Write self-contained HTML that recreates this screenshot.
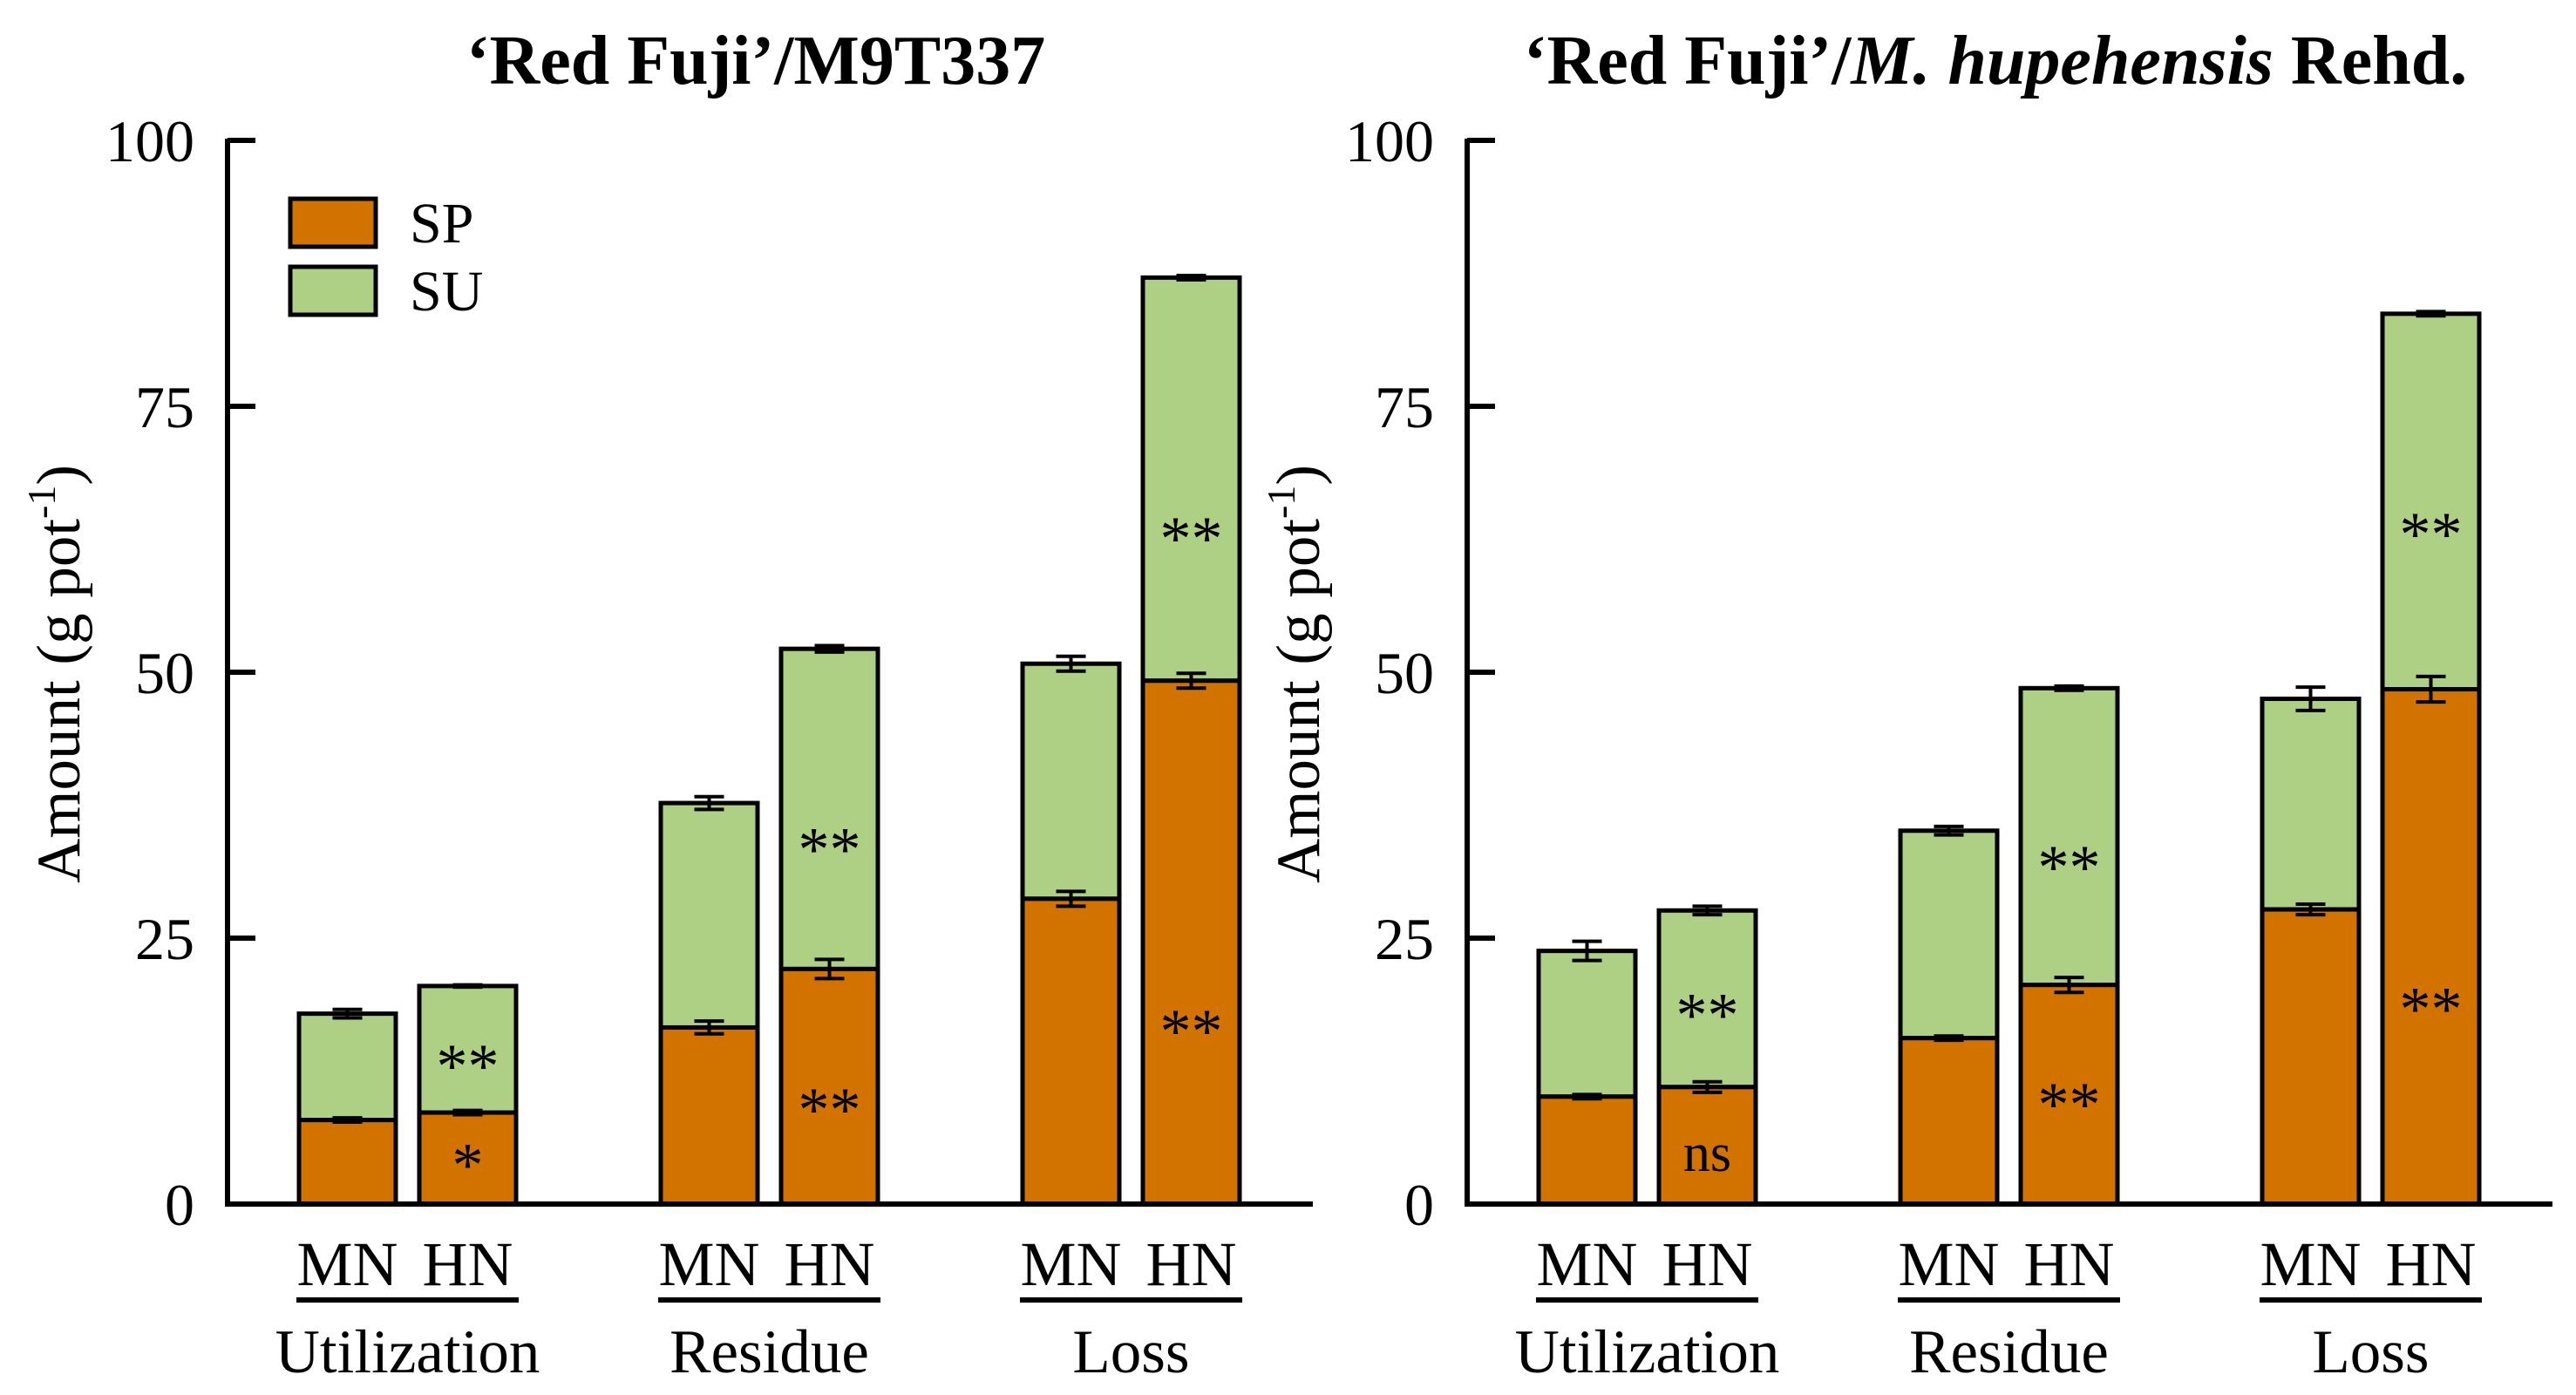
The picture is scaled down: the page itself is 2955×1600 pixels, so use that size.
<!DOCTYPE html>
<html><head><meta charset="utf-8"><style>
html,body{margin:0;padding:0;background:#fff;}
svg{display:block;font-family:"Liberation Serif",serif;}
</style></head><body>
<svg id="chart" width="2955" height="1600" viewBox="0 0 2955 1600" xmlns="http://www.w3.org/2000/svg"></svg>
<script>
const categories = ["Utilization","Residue","Loss"];
const treatments = ["MN","HN"];
// Left panel: 'Red Fuji'/M9T337  (order: Util MN, Util HN, Res MN, Res HN, Loss MN, Loss HN)
const leftSP = [7.9, 8.6, 16.6, 22.1, 28.7, 49.2];
const leftSPerr = [0.2, 0.2, 0.6, 0.9, 0.7, 0.7];
const leftTotal = [17.9, 20.5, 37.7, 52.2, 50.8, 87.1];
const leftTotalErr = [0.4, 0.1, 0.6, 0.3, 0.7, 0.2];
const leftSPSig = ["", "*", "", "**", "", "**"];
const leftSUSig = ["", "**", "", "**", "", "**"];
const leftSPSigY = [0, 3.8, 0, 9, 0, 16.4];
const leftSUSigY = [0, 13.1, 0, 33.5, 0, 62.7];
// Right panel: 'Red Fuji'/M. hupehensis Rehd.
const rightSP = [10.1, 11.0, 15.6, 20.6, 27.7, 48.4];
const rightSPerr = [0.2, 0.5, 0.2, 0.7, 0.5, 1.2];
const rightTotal = [23.8, 27.6, 35.1, 48.5, 47.5, 83.7];
const rightTotalErr = [0.9, 0.4, 0.4, 0.2, 1.1, 0.2];
const rightSPSig = ["", "ns", "", "**", "", "**"];
const rightSUSig = ["", "**", "", "**", "", "**"];
const rightSPSigY = [0, 4.6, 0, 9.5, 0, 18.5];
const rightSUSigY = [0, 17.9, 0, 31.8, 0, 63.1];
const yTicks = [0, 25, 50, 75, 100];

const NS = "http://www.w3.org/2000/svg";
const svg = document.getElementById("chart");
function mk(tag, attrs, parent, text){
  const e = document.createElementNS(NS, tag);
  for (const k in attrs) e.setAttribute(k, attrs[k]);
  if (text !== undefined) e.textContent = text;
  (parent||svg).appendChild(e);
  return e;
}
const Y0 = 1381, Y100 = 161;
function yScale(v){ return Y0 - (Y0 - Y100) * v / 100; }
const BW = 111;
function barX(axisX, i){ const g = Math.floor(i/2), t = i%2; return axisX + 82 + g*415 + t*138; }

function panel(axisX, title, SP, SPerr, TOT, TOTerr, spSig, suSig, spSigY, suSigY, pname, showLegend){
  const g = mk("g", {}, svg);
  
  
  const t = mk("text", {x: axisX + 606, y: 96, "text-anchor":"middle", "font-size":"80", "font-weight":"bold"}, g);
  
  
  t.appendChild(document.createTextNode(title[0]));
  if (title[1]) mk("tspan", {"font-style":"italic"}, t, title[1]);
  if (title[2]) t.appendChild(document.createTextNode(title[2]));
  for (let i = 0; i < SP.length; i++){
    const x = barX(axisX, i);
    const su = mk("rect", {x: x, y: yScale(TOT[i]), width: BW, height: yScale(SP[i]) - yScale(TOT[i]), fill:"#aed084", stroke:"#000", "stroke-width":"5"}, g);
    
    
    const sp = mk("rect", {x: x, y: yScale(SP[i]), width: BW, height: Y0 - yScale(SP[i]), fill:"#d27300", stroke:"#000", "stroke-width":"5"}, g);
    
    
    const cx = x + BW/2;
    [[TOT[i], TOTerr[i]], [SP[i], SPerr[i]]].forEach(function(p){
      const eg = mk("path", {d: "M"+(cx-17)+","+yScale(p[0]+p[1])+"H"+(cx+17)+"M"+(cx-17)+","+yScale(p[0]-p[1])+"H"+(cx+17)+"M"+cx+","+yScale(p[0]+p[1])+"V"+yScale(p[0]-p[1]), stroke:"#000", "stroke-width":"4", fill:"none"}, g);
      
      
    });
    if (spSig[i]){
      const s = mk("text", {x: cx, y: yScale(spSigY[i]) + (spSig[i]==="ns" ? 18 : 26), "text-anchor":"middle", "font-size": spSig[i]==="ns" ? "62" : "72"}, g, spSig[i]);
      
      
    }
    if (suSig[i]){
      const s = mk("text", {x: cx, y: yScale(suSigY[i]) + 26, "text-anchor":"middle", "font-size":"72"}, g, suSig[i]);
      
      
    }
    const tl = mk("text", {x: cx, y: 1474, "text-anchor":"middle", "font-size":"72"}, g, treatments[i%2]);
    
    
  }
  const ax = mk("path", {d: "M"+axisX+","+(Y100-2)+"V"+Y0+"H"+(axisX+1245), stroke:"#000", "stroke-width":"6", fill:"none"}, g);
  
  
  yTicks.forEach(function(v){
    const tk = mk("line", {x1: axisX, x2: axisX + 32, y1: yScale(v), y2: yScale(v), stroke:"#000", "stroke-width":"6"}, g);
    
    
    const tl = mk("text", {x: axisX - 38, y: yScale(v) + 24, "text-anchor":"end", "font-size":"68"}, g, String(v));
    
    
  });
  const yt = mk("text", {x: 0, y: 0, "text-anchor":"middle", "font-size":"71", transform:"translate("+(axisX-170)+",773) rotate(-90)"}, g, "Amount (g pot");
  
  
  mk("tspan", {dy:"-28", "font-size":"46"}, yt, "-1");
  mk("tspan", {dy:"28"}, yt, ")");
  categories.forEach(function(c, gi){
    const x1 = barX(axisX, gi*2) - 3, x2 = barX(axisX, gi*2+1) + BW + 3;
    const ul = mk("line", {x1: x1, x2: x2, y1: 1491, y2: 1491, stroke:"#000", "stroke-width":"6"}, g);
    
    
    const cl = mk("text", {x: (x1+x2)/2, y: 1574, "text-anchor":"middle", "font-size":"71"}, g, c);
    
    
  });
  if (showLegend){
    const lg = mk("g", {}, g);
    
    
    [["SP","#d27300",228],["SU","#aed084",306]].forEach(function(L){
      const r = mk("rect", {x: 333, y: L[2], width: 98, height: 55, fill: L[1], stroke:"#000", "stroke-width":"5"}, lg);
      
      
      const tx = mk("text", {x: 470, y: L[2] + 50, "font-size":"66"}, lg, L[0]);
      
      
    });
  }
}
panel(261, ["\u2018Red Fuji\u2019/M9T337", "", ""], leftSP, leftSPerr, leftTotal, leftTotalErr, leftSPSig, leftSUSig, leftSPSigY, leftSUSigY, "left-panel", true);
panel(1683, ["\u2018Red Fuji\u2019/", "M. hupehensis", " Rehd."], rightSP, rightSPerr, rightTotal, rightTotalErr, rightSPSig, rightSUSig, rightSPSigY, rightSUSigY, "right-panel", false);
</script>
</body></html>
